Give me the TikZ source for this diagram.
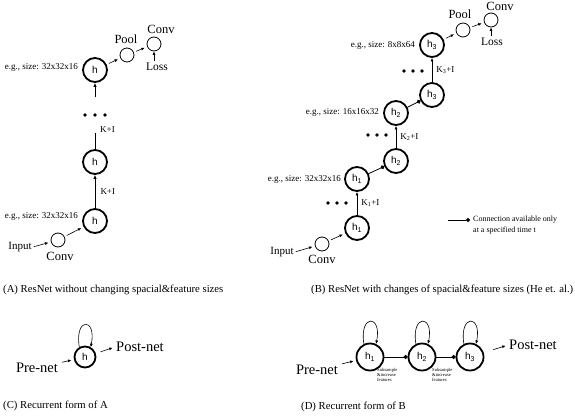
\documentclass[tikz,border=0pt]{standalone}
\usepackage{fontspec}
\setmainfont{Liberation Serif}
\setsansfont{Liberation Sans}
\usepackage{tikz}
\usetikzlibrary{arrows.meta, positioning}
\newcommand{\fsz}[1]{\fontsize{#1}{#1}\selectfont}
\tikzset{
  hnode/.style={circle, draw, line width=1.8pt, minimum size=24pt,
    inner sep=0pt, font=\sffamily\fsz{10}},
  smallnode/.style={circle, draw, line width=0.8pt, minimum size=14pt, inner sep=0pt},
  arrow/.style={-{Latex[length=3.5pt,width=3pt]}, line width=0.6pt},
  shortarrow/.style={arrow, shorten <=2.5pt, shorten >=2.5pt},
  mainarrow/.style={-{Latex[length=4pt,width=3.5pt]}, line width=1pt},
  dotline/.style={-{Circle[length=4pt]}, line width=0.8pt},
  sizelbl/.style={anchor=east, font=\fsz{9}, inner sep=1pt},
  klbl/.style={anchor=west, font=\fsz{9}, inner sep=1pt},
  namelbl/.style={font=\fsz{12.5}, inner sep=1pt},
  netlbl/.style={font=\fsz{14.5}, inner sep=1pt},
  caption/.style={anchor=west, font=\fsz{10.7}, inner sep=0pt},
  sublbl/.style={anchor=north west, align=left, font=\fontsize{4.6}{5}\selectfont, inner sep=0pt}
}

\begin{document}
\begin{tikzpicture}[x=1pt, y=-1pt]
  \useasboundingbox (0,0) rectangle (575,415);

  % (A) ResNet without changing sizes
  \node[hnode] (hA1) at (95,221) {h};
  \node[hnode] (hA2) at (95,162) {h};
  \node[hnode] (hA3) at (95,70) {h};
  \node[smallnode] (convA) at (58,240) {};
  \node[font=\fsz{11}, inner sep=1pt] (inA) at (20,247) {Input};
  \node[namelbl] (convAl) at (60,256) {Conv};
  \draw[shortarrow, shorten <=1pt] (inA.east) -- (convA);
  \draw[shortarrow] (convA) -- (hA1);
  \draw[mainarrow] (hA1) -- (hA2) node[midway, klbl, xshift=4pt] (kA1) {K+I};

  \coordinate (topA) at (95,133);
  \draw[line width=1pt] (hA2) -- (topA);
  \node[klbl] (kA2) at (99,130) {K+I};
  \foreach \x in {85,95,105} \fill (\x,115) circle (1.9pt);
  \coordinate (botA) at (95,97);
  \draw[mainarrow] (botA) -- (hA3);

  \node[sizelbl] (szA1) at (79,216) {e.g., size: 32x32x16};
  \node[sizelbl] (szA3) at (79,67) {e.g., size: 32x32x16};

  \node[smallnode] (poolA) at (127,55) {};
  \node[smallnode] (convA2) at (154,44) {};
  \node[namelbl] (poolAl) at (126,39) {Pool};
  \node[namelbl] (convA2l) at (161,29) {Conv};
  \node[font=\fsz{11.5}, inner sep=1pt] (lossA) at (157,67) {Loss};
  \draw[shortarrow] (hA3) -- (poolA);
  \draw[shortarrow] (poolA) -- (convA2);
  \draw[arrow, shorten <=1pt] (lossA.north -| convA2.south) -- (convA2.south);

  % (B) ResNet with changes of sizes
  \node[hnode] (hB1a) at (357,228) {h\textsubscript{1}};
  \node[hnode] (hB1b) at (357,179) {h\textsubscript{1}};
  \node[hnode] (hB2a) at (396,161) {h\textsubscript{2}};
  \node[hnode] (hB2b) at (396,113) {h\textsubscript{2}};
  \node[hnode] (hB3a) at (432,95) {h\textsubscript{3}};
  \node[hnode] (hB3b) at (432,45) {h\textsubscript{3}};

  \node[smallnode] (convB) at (322,244) {};
  \node[font=\fsz{11}, inner sep=1pt] (inB) at (282,252) {Input};
  \node[namelbl] (convBl) at (322,259) {Conv};
  \draw[shortarrow, shorten <=1pt] (inB.east) -- (convB);
  \draw[shortarrow] (convB) -- (hB1a);

  \draw[arrow] (hB1a) -- (hB1b) node[midway, klbl, xshift=3pt] (kB1) {K\textsubscript{1}+I};
  \draw[arrow] (hB2a) -- (hB2b) node[midway, klbl, xshift=3pt] (kB2) {K\textsubscript{2}+I};
  \draw[arrow] (hB3a) -- (hB3b) node[midway, klbl, xshift=3pt] (kB3) {K\textsubscript{3}+I};
  \foreach \x in {328,337,346} \fill (\x,203) circle (1.9pt);
  \foreach \x in {368,377,386} \fill (\x,135) circle (1.9pt);
  \foreach \x in {404,413,422} \fill (\x,71) circle (1.9pt);

  \draw[dotline] (hB1b) -- (hB2a);
  \draw[dotline] (hB2b) -- (hB3a);

  \node[sizelbl] (szB1) at (342,179) {e.g., size: 32x32x16};
  \node[sizelbl] (szB2) at (380,112) {e.g., size: 16x16x32};
  \node[sizelbl] (szB3) at (416,45) {e.g., size: 8x8x64};

  \node[smallnode] (poolB) at (463,30) {};
  \node[smallnode] (convB2) at (491,20) {};
  \node[namelbl] (poolBl) at (460,14) {Pool};
  \node[namelbl] (convB2l) at (500,6.5) {Conv};
  \node[font=\fsz{11.5}, inner sep=1pt] (lossB) at (492,42) {Loss};
  \draw[shortarrow] (hB3b) -- (poolB);
  \draw[shortarrow] (poolB) -- (convB2);
  \draw[arrow, shorten <=1pt] (lossB.north -| convB2.south) -- (convB2.south);

  % legend
  \coordinate (legS) at (448,220);
  \coordinate (legE) at (470,220);
  \draw[dotline] (legS) -- (legE);
  \node[anchor=west, align=left, font=\fontsize{8}{11}\selectfont, inner sep=0pt] (legT) at (473,225) {Connection available only\\at a specified time t};

  % captions
  \node[caption] (capA) at (3,290) {(A) ResNet without changing spacial\&feature sizes};
  \node[caption] (capB) at (311,290) {(B) ResNet with changes of spacial\&feature sizes (He et. al.)};
  \node[caption] (capC) at (3,406) {(C) Recurrent form of A};
  \node[caption] (capD) at (301,407) {(D) Recurrent form of B};

  % (C) Recurrent form of A
  \node[hnode, minimum size=21pt] (hC) at (85,357) {h};
  \draw[arrow] (hC.120) .. controls +(-5,-30) and +(6,-30) .. (hC.60);
  \node[netlbl] (preC) at (37,368) {Pre-net};
  \node[netlbl, anchor=west] (postC) at (115,347) {Post-net};
  \draw[shortarrow, shorten <=3pt] (preC) -- (hC);
  \draw[shortarrow, shorten <=5pt] (hC) -- (postC.west);

  % (D) Recurrent form of B
  \node[hnode, minimum size=27pt] (hD1) at (370,357) {h\textsubscript{1}};
  \node[hnode, minimum size=27pt] (hD2) at (422,357) {h\textsubscript{2}};
  \node[hnode, minimum size=27pt] (hD3) at (470,357) {h\textsubscript{3}};
  \foreach \n in {hD1,hD2,hD3}
    \draw[arrow] (\n.115) .. controls +(-5,-30) and +(6,-30) .. (\n.65);
  \draw[dotline] (hD1) -- (hD2);
  \draw[dotline] (hD2) -- (hD3);
  \node[sublbl] (subD1) at (377,368) {Subsample\\\&increase\\features};
  \node[sublbl] (subD2) at (432,368) {Subsample\\\&increase\\features};
  \node[netlbl] (preD) at (317,370) {Pre-net};
  \node[netlbl, anchor=west] (postD) at (508,345) {Post-net};
  \draw[shortarrow, shorten <=3pt] (preD) -- (hD1);
  \draw[shortarrow, shorten <=10pt] (hD3) -- (postD.west);
\end{tikzpicture}
\end{document}
